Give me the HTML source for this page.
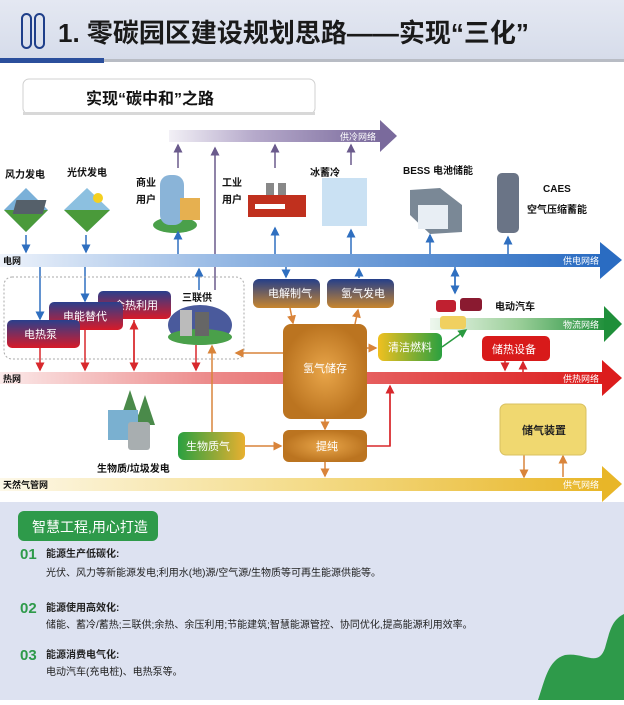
<!DOCTYPE html>
<html><head><meta charset="utf-8"><style>
body{margin:0;width:624px;height:700px;overflow:hidden;font-family:"Liberation Sans","Noto Sans CJK SC",sans-serif;background:#fff}
svg text{font-family:"Liberation Sans","Noto Sans CJK SC",sans-serif}
</style></head><body>
<svg width="624" height="700" viewBox="0 0 624 700" xmlns="http://www.w3.org/2000/svg">
<defs>
<marker id="ab" markerWidth="6" markerHeight="6" refX="5" refY="3" orient="auto"><path d="M0,0L6,3L0,6z" fill="#2f6fc0"/></marker>
<marker id="ar" markerWidth="6" markerHeight="6" refX="5" refY="3" orient="auto"><path d="M0,0L6,3L0,6z" fill="#d8282c"/></marker>
<marker id="ao" markerWidth="6" markerHeight="6" refX="5" refY="3" orient="auto"><path d="M0,0L6,3L0,6z" fill="#d9843a"/></marker>
<marker id="ap" markerWidth="6" markerHeight="6" refX="5" refY="3" orient="auto"><path d="M0,0L6,3L0,6z" fill="#6a5a8c"/></marker>
<marker id="ag" markerWidth="6" markerHeight="6" refX="5" refY="3" orient="auto"><path d="M0,0L6,3L0,6z" fill="#2a9a40"/></marker>
<linearGradient id="gb" x1="0" x2="1"><stop offset="0" stop-color="#eef3fb"/><stop offset="0.4" stop-color="#8fb4e2"/><stop offset="1" stop-color="#2a6cc2"/></linearGradient>
<linearGradient id="gr" x1="0" x2="1"><stop offset="0" stop-color="#fbeaea"/><stop offset="0.35" stop-color="#ec8a8a"/><stop offset="1" stop-color="#dc1c1c"/></linearGradient>
<linearGradient id="gy" x1="0" x2="1"><stop offset="0" stop-color="#fdf8e8"/><stop offset="0.5" stop-color="#f4dc8a"/><stop offset="1" stop-color="#e8b628"/></linearGradient>
<linearGradient id="gp" x1="0" x2="1"><stop offset="0" stop-color="#f2f0f6"/><stop offset="0.4" stop-color="#b6aacb"/><stop offset="1" stop-color="#7a6a9c"/></linearGradient>
<linearGradient id="gg" x1="0" x2="1"><stop offset="0" stop-color="#eef7ee"/><stop offset="0.5" stop-color="#9ccf9a"/><stop offset="1" stop-color="#1f8f3a"/></linearGradient>
<linearGradient id="bx" x1="0" y1="0" x2="0" y2="1"><stop offset="0" stop-color="#2a3f8c"/><stop offset="1" stop-color="#d81a28"/></linearGradient>
<linearGradient id="bo" x1="0" y1="0" x2="0" y2="1"><stop offset="0" stop-color="#243f8a"/><stop offset="1" stop-color="#c8862e"/></linearGradient>
<radialGradient id="or"><stop offset="0" stop-color="#e9a64a"/><stop offset="1" stop-color="#bb7420"/></radialGradient>
<linearGradient id="gf" x1="0" x2="1"><stop offset="0" stop-color="#f0c020"/><stop offset="1" stop-color="#2aa040"/></linearGradient>
<linearGradient id="gf2" x1="0" x2="1"><stop offset="0" stop-color="#2aa040"/><stop offset="1" stop-color="#e8b030"/></linearGradient>
<linearGradient id="hd" x1="0" y1="0" x2="0" y2="1"><stop offset="0" stop-color="#e4e8f2"/><stop offset="1" stop-color="#d6dcea"/></linearGradient>
</defs>
<rect x="0" y="0" width="624" height="60" fill="url(#hd)"/>
<rect x="22" y="14" width="9" height="34" rx="4.5" fill="none" stroke="#1f3f8a" stroke-width="2"/>
<rect x="35" y="14" width="9" height="34" rx="4.5" fill="none" stroke="#1f3f8a" stroke-width="2"/>
<text x="58" y="42" font-size="26" font-weight="bold" fill="#1a1a1a">1. 零碳园区建设规划思路——实现“三化”</text>
<rect x="0" y="59" width="624" height="3" fill="#b8bcc4"/>
<rect x="0" y="58" width="104" height="5" fill="#2b4f9c"/>
<rect x="23" y="79" width="292" height="35" rx="6" fill="#fff" stroke="#d0d0d0"/>
<rect x="23" y="112" width="292" height="3" fill="#d8d8d8"/>
<text x="86" y="104" font-size="16" font-weight="bold" fill="#111">实现“碳中和”之路</text>
<rect x="169" y="130" width="212" height="12" fill="url(#gp)"/>
<path d="M380,120L397,136L380,152z" fill="#7a6a9c"/>
<text x="340" y="140" font-size="9" fill="#fff">供冷网络</text>
<g stroke="#6a5a8c" stroke-width="1.5" marker-end="url(#ap)">
<line x1="178" y1="168" x2="178" y2="145"/><line x1="275" y1="168" x2="275" y2="145"/><line x1="351" y1="165" x2="351" y2="145"/>
</g>
<line x1="215" y1="290" x2="215" y2="148" stroke="#6a5a8c" stroke-width="1.5" marker-end="url(#ap)"/>
<g font-size="10" font-weight="bold" fill="#111">
<text x="5" y="178">风力发电</text><text x="67" y="176">光伏发电</text>
<text x="136" y="186">商业</text><text x="136" y="203">用户</text>
<text x="222" y="186">工业</text><text x="222" y="203">用户</text>
<text x="310" y="176">冰蓄冷</text>
<text x="403" y="174">BESS 电池储能</text>
<text x="543" y="192">CAES</text><text x="527" y="213">空气压缩蓄能</text>
</g>
<path d="M26,188L48,210L26,232L4,210z" fill="#7ab0d8"/><path d="M4,210L48,210L26,232z" fill="#4a9a3a"/>
<path d="M87,188L110,210L87,232L64,210z" fill="#8cc0e0"/><path d="M64,210L110,210L87,232z" fill="#4a9a3a"/>
<circle cx="98" cy="198" r="5" fill="#f4d020"/><rect x="70" y="200" width="30" height="14" fill="#55606a" transform="skewX(-15)"/>
<ellipse cx="175" cy="225" rx="22" ry="8" fill="#4aa04a"/><rect x="160" y="175" width="24" height="50" rx="10" fill="#8ab4d8"/><rect x="180" y="198" width="20" height="22" fill="#e6b050"/>
<rect x="266" y="183" width="8" height="15" fill="#888"/><rect x="278" y="183" width="8" height="15" fill="#888"/>
<rect x="248" y="195" width="58" height="22" fill="#c0301e"/><rect x="255" y="204" width="30" height="5" fill="#fff"/>
<rect x="322" y="178" width="45" height="48" fill="#c4def2" opacity="0.9"/>
<path d="M410,190L440,188L462,205L462,232L430,234L410,215z" fill="#7a8896"/><rect x="418" y="205" width="30" height="24" fill="#e8eef4"/>
<rect x="497" y="173" width="22" height="60" rx="5" fill="#6a7486"/>
<g stroke="#2f6fc0" stroke-width="1.5" marker-end="url(#ab)">
<line x1="26" y1="235" x2="26" y2="252"/><line x1="86" y1="235" x2="86" y2="252"/>
<line x1="178" y1="254" x2="178" y2="232"/><line x1="275" y1="254" x2="275" y2="228"/><line x1="351" y1="254" x2="351" y2="230"/>
<line x1="430" y1="254" x2="430" y2="235"/><line x1="508" y1="254" x2="508" y2="237"/>
<line x1="455" y1="267" x2="455" y2="293"/><line x1="455" y1="290" x2="455" y2="269"/>
<line x1="40" y1="267" x2="40" y2="319"/><line x1="85" y1="267" x2="85" y2="301"/>
<line x1="199" y1="290" x2="199" y2="269"/><line x1="286" y1="267" x2="286" y2="277"/><line x1="359" y1="278" x2="359" y2="269"/>
</g>
<rect x="0" y="254" width="602" height="13" fill="url(#gb)"/>
<path d="M600,242L622,260L600,279z" fill="#2a6cc2"/>
<text x="3" y="264" font-size="9" font-weight="bold" fill="#111">电网</text>
<text x="563" y="264" font-size="9" fill="#fff">供电网络</text>
<!-- heat band (behind boxes) -->
<rect x="0" y="372" width="604" height="12" fill="url(#gr)"/>
<path d="M602,360L622,378L602,396z" fill="#dc1c1c"/>
<text x="3" y="382" font-size="9" font-weight="bold" fill="#111">热网</text>
<text x="563" y="382" font-size="9" fill="#fff">供热网络</text>
<rect x="4" y="277" width="240" height="82" rx="8" fill="none" stroke="#aaa" stroke-dasharray="2,2"/>
<g stroke="#d8282c" stroke-width="1.5" marker-end="url(#ar)">
<line x1="40" y1="348" x2="40" y2="370"/><line x1="85" y1="330" x2="85" y2="370"/>
<line x1="134" y1="320" x2="134" y2="370"/><line x1="134" y1="368" x2="134" y2="322"/>
<line x1="196" y1="345" x2="196" y2="370"/>
<line x1="390" y1="446" x2="390" y2="386"/>
<line x1="505" y1="360" x2="505" y2="370"/><line x1="523" y1="372" x2="523" y2="362"/>
</g>
<rect x="98" y="291" width="73" height="28" rx="5" fill="url(#bx)"/><text x="114" y="309" font-size="11" fill="#fff">余热利用</text>
<rect x="49" y="302" width="74" height="28" rx="5" fill="url(#bx)"/><text x="63" y="320" font-size="11" fill="#fff">电能替代</text>
<rect x="7" y="320" width="73" height="28" rx="5" fill="url(#bx)"/><text x="24" y="338" font-size="11" fill="#fff">电热泵</text>
<text x="182" y="301" font-size="10" font-weight="bold" fill="#111">三联供</text>
<ellipse cx="200" cy="325" rx="32" ry="20" fill="#4a5a9c"/><ellipse cx="200" cy="337" rx="32" ry="8" fill="#4aa04a"/>
<rect x="180" y="310" width="12" height="26" fill="#bbb"/><rect x="195" y="312" width="14" height="24" fill="#666"/>
<rect x="253" y="279" width="67" height="29" rx="6" fill="url(#bo)"/><text x="268" y="297" font-size="11" fill="#fff">电解制气</text>
<rect x="327" y="279" width="67" height="29" rx="6" fill="url(#bo)"/><text x="341" y="297" font-size="11" fill="#fff">氢气发电</text>
<rect x="283" y="324" width="84" height="95" rx="8" fill="url(#or)"/><text x="303" y="372" font-size="11" fill="#fff">氢气储存</text>
<rect x="283" y="430" width="84" height="32" rx="6" fill="url(#or)"/><text x="316" y="450" font-size="11" fill="#fff">提纯</text>
<rect x="378" y="333" width="64" height="28" rx="6" fill="url(#gf)"/><text x="388" y="351" font-size="11" fill="#fff">清洁燃料</text>
<rect x="178" y="432" width="67" height="28" rx="6" fill="url(#gf2)"/><text x="186" y="450" font-size="11" fill="#fff">生物质气</text>
<g stroke="#d9843a" stroke-width="1.5" marker-end="url(#ao)">
<line x1="290" y1="308" x2="293" y2="323"/><line x1="355" y1="324" x2="358" y2="310"/>
<line x1="283" y1="353" x2="236" y2="353"/><line x1="367" y1="348" x2="376" y2="348"/>
<line x1="325" y1="419" x2="325" y2="429"/><line x1="325" y1="462" x2="325" y2="476"/>
<line x1="245" y1="446" x2="281" y2="446"/><line x1="212" y1="432" x2="212" y2="346"/>
<line x1="524" y1="455" x2="524" y2="477"/><line x1="563" y1="477" x2="563" y2="456"/>
</g>
<polyline points="367,446 390,446 390,388" fill="none" stroke="#d8282c" stroke-width="1.5"/>
<rect x="430" y="318" width="176" height="12" fill="url(#gg)"/>
<path d="M604,306L622,324L604,342z" fill="#1f8f3a"/>
<text x="563" y="328" font-size="9" fill="#fff">物流网络</text>
<line x1="442" y1="347" x2="466" y2="330" stroke="#2a9a40" stroke-width="1.5" marker-end="url(#ag)"/>
<rect x="436" y="300" width="20" height="12" rx="3" fill="#c02030"/><rect x="460" y="298" width="22" height="13" rx="3" fill="#8a1a30"/>
<rect x="440" y="316" width="26" height="13" rx="3" fill="#f0d060"/>
<text x="495" y="310" font-size="10" font-weight="bold" fill="#111">电动汽车</text>
<rect x="482" y="336" width="68" height="25" rx="5" fill="#d81a1a"/><text x="492" y="353" font-size="11" fill="#fff">储热设备</text>
<path d="M130,390L140,420L120,420z" fill="#4a8a4a"/><path d="M145,395L155,425L135,425z" fill="#4a8a4a"/>
<rect x="108" y="410" width="30" height="30" fill="#7ab0d0"/><rect x="128" y="422" width="22" height="28" rx="3" fill="#a8aeb0"/>
<text x="97" y="472" font-size="10" font-weight="bold" fill="#111">生物质/垃圾发电</text>
<rect x="500" y="404" width="86" height="51" rx="6" fill="#f0d870" stroke="#d8c060"/><text x="522" y="434" font-size="11" font-weight="bold" fill="#222">储气装置</text>
<rect x="0" y="478" width="604" height="13" fill="url(#gy)"/>
<path d="M602,466L622,484L602,502z" fill="#e8b628"/>
<text x="3" y="488" font-size="9" font-weight="bold" fill="#111">天然气管网</text>
<text x="563" y="488" font-size="9" fill="#fff">供气网络</text>
<rect x="0" y="502" width="624" height="198" fill="#dde2f1"/>
<rect x="18" y="511" width="140" height="30" rx="6" fill="#2e9a4a"/>
<text x="32" y="532" font-size="14" fill="#fff">智慧工程,用心打造</text>
<g font-size="10" fill="#222">
<text x="20" y="559" font-size="15" font-weight="bold" fill="#2e9a4a">01</text>
<text x="46" y="557" font-weight="bold">能源生产低碳化:</text>
<text x="46" y="576">光伏、风力等新能源发电;利用水(地)源/空气源/生物质等可再生能源供能等。</text>
<text x="20" y="613" font-size="15" font-weight="bold" fill="#2e9a4a">02</text>
<text x="46" y="611" font-weight="bold">能源使用高效化:</text>
<text x="46" y="628">储能、蓄冷/蓄热;三联供;余热、余压利用;节能建筑;智慧能源管控、协同优化,提高能源利用效率。</text>
<text x="20" y="660" font-size="15" font-weight="bold" fill="#2e9a4a">03</text>
<text x="46" y="658" font-weight="bold">能源消费电气化:</text>
<text x="46" y="675">电动汽车(充电桩)、电热泵等。</text>
</g>
<path d="M538,700C545,680 548,660 565,655C585,652 598,668 605,648C610,630 612,620 624,614L624,700z" fill="#2e9a4a"/>
</svg>
</body></html>
